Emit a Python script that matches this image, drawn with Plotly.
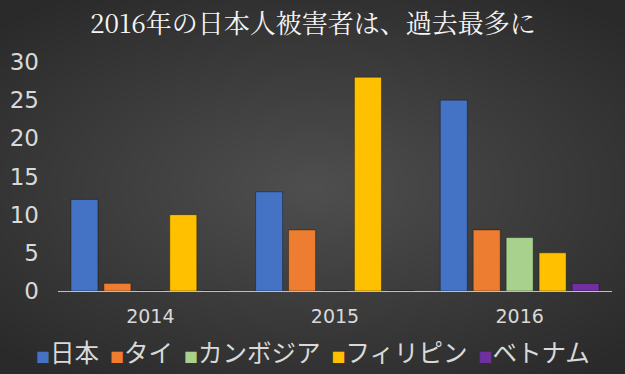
import plotly.graph_objects as go

years = ["2014", "2015", "2016"]
series_names = ["日本", "タイ", "カンボジア", "フィリピン", "ベトナム"]
japan = [12, 13, 25]
thai = [1, 8, 8]
cambodia = [0, 0, 7]
philippines = [10, 28, 5]
vietnam = [0, 0, 1]
colors = ["#4472C4", "#ED7D31", "#A9D18E", "#FFC000", "#7030A0"]
y_ticks = [0, 5, 10, 15, 20, 25, 30]
title_text = "2016年の日本人被害者は、過去最多に"

values = [japan, thai, cambodia, philippines, vietnam]

fig = go.Figure()
for name, vals, col in zip(series_names, values, colors):
    fig.add_trace(go.Bar(
        x=years, y=vals, name=name,
        marker=dict(color=col, line=dict(color="rgba(0,0,0,0.35)", width=1)),
        showlegend=False,
    ))

# radial vignette background (styling only)
shapes = []
n = 36
for i in range(n):
    f = 1 - i / n
    shapes.append(dict(
        type="circle", xref="paper", yref="paper", layer="below",
        x0=0.46 - 0.78 * f, x1=0.46 + 0.78 * f,
        y0=0.45 - 1.0 * f, y1=0.45 + 1.0 * f,
        fillcolor="rgba(255,255,255,0.0075)", line=dict(width=0),
    ))

legend_html = "  ".join(
    f"<span style='color:{c};font-size:14px'>■</span>{n_}"
    for n_, c in zip(series_names, colors)
)

fig.update_layout(
    width=625, height=374,
    margin=dict(l=58, r=13, t=62, b=83),
    paper_bgcolor="#2a2a2a",
    plot_bgcolor="rgba(0,0,0,0)",
    barmode="group",
    bargap=0.108,
    bargroupgap=0.18,
    font=dict(family="Noto Sans CJK JP", color="#d9d9d9"),
    shapes=shapes,
    xaxis=dict(
        type="category", showgrid=False, showline=True, automargin=False,
        linecolor="#bfbfbf", linewidth=1, ticks="",
        tickfont=dict(family="DejaVu Sans", size=19, color="#d9d9d9"),
        ticklabelstandoff=8,
    ),
    yaxis=dict(
        range=[0, 30], tickvals=y_ticks, showgrid=False, zeroline=False,
        showline=False, ticks="", automargin=False,
        tickfont=dict(family="DejaVu Sans", size=23, color="#d9d9d9"),
        ticklabelstandoff=18,
    ),
    annotations=[
        dict(text=title_text, xref="paper", yref="paper", x=0.46, y=1,
             yshift=41, xanchor="center", yanchor="middle", showarrow=False,
             font=dict(family="Noto Serif CJK JP, Noto Sans CJK JP", size=26, color="#f5f5f5")),
        dict(text=legend_html, xref="paper", yref="paper", x=0.46, y=0,
             yshift=-60, xanchor="center", yanchor="middle", showarrow=False,
             font=dict(size=24.5, color="#d9d9d9")),
    ],
)

fig.write_html("out.html")
